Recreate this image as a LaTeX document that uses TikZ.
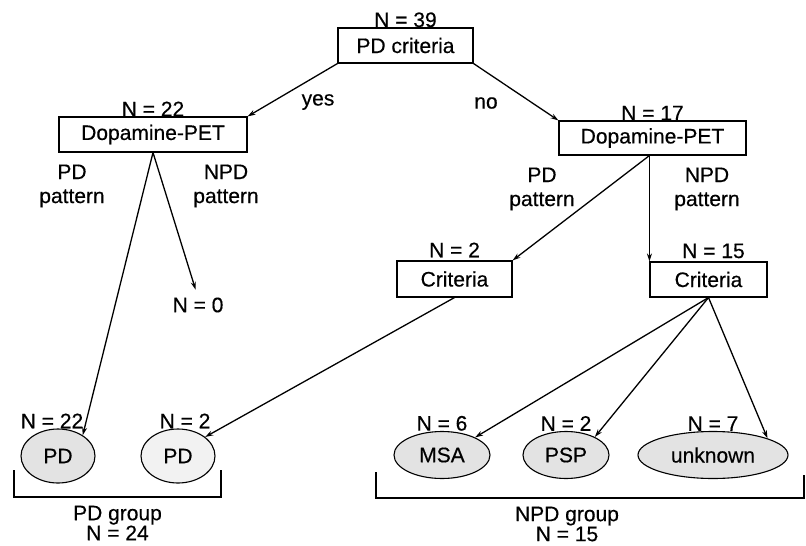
\documentclass[tikz,border=0pt]{standalone}
\usepackage{fontspec}
\setmainfont[FakeBold=0.4]{Liberation Sans}
\usetikzlibrary{positioning,shapes.geometric,arrows.meta}

\begin{document}
\begin{tikzpicture}[x = 1pt, y = -1pt,
                font = \fontsize{21}{24}\selectfont,
                box/.style   = {draw, line width = 1.1pt, inner sep = 0pt},
                oval/.style  = {ellipse, draw, line width = 1.1pt, fill = gray!22, inner sep = 0pt},
                count/.style = {inner sep = 0pt},
                arr/.style   = {-{Stealth[length = 8pt, width = 5pt]}, line width = 1.3pt}]
                \useasboundingbox (0,0) rectangle (806,546);
                % boxes
                \node [box, minimum width = 135pt, minimum height = 35pt] (crit)  at (405.5,45.5) {PD criteria};
                \node [box, minimum width = 188pt, minimum height = 35pt] (dpl)   at (153,134.5)  {Dopamine-PET};
                \node [box, minimum width = 187pt, minimum height = 34pt] (dpr)   at (652.5,138)  {Dopamine-PET};
                \node [box, minimum width = 115pt, minimum height = 36pt] (critL) at (454.5,279)  {Criteria};
                \node [box, minimum width = 117pt, minimum height = 35pt] (critR) at (708.5,279.5) {Criteria};
                % outcomes
                \node [oval, minimum width = 74pt, minimum height = 54pt] (pdA) at (58,456)  {PD};
                \node [oval, minimum width = 74pt, minimum height = 54pt, fill = gray!10] (pdB) at (178,456) {PD};
                \node [oval, minimum width = 96pt, minimum height = 47pt] (msa) at (442,455) {MSA};
                \node [oval, minimum width = 86pt, minimum height = 47pt] (psp) at (566,455) {PSP};
                \node [oval, minimum width = 150pt, minimum height = 47pt] (unk) at (713,455) {unknown};
                % counts
                \node [count, above = 0pt of crit]  {N = 39};
                \node [count, above = 0pt of dpl]   {N = 22};
                \node [count, above = 0pt of dpr]   {N = 17};
                \node [count, above = 3pt of critL] {N = 2};
                \node [count, above = 3pt of critR, xshift = 5pt] {N = 15};
                \node [count, above = 0pt of pdA, xshift = -6pt] {N = 22};
                \node [count, above = 0pt of pdB, xshift = 7pt]  {N = 2};
                \node [count, above = 0pt of msa]   {N = 6};
                \node [count, above = 0pt of psp]   {N = 2};
                \node [count, above = 0pt of unk]   {N = 7};
                \node [count] (zero) at (198,305) {N = 0};
                % branch labels
                \node at (318,102) {yes};
                \node at (486,103) {no};
                \node [align = center] at (72,186)  {PD\\pattern};
                \node [align = center] at (226,186) {NPD\\pattern};
                \node [align = center] at (542,189) {PD\\pattern};
                \node [align = center] at (707,189) {NPD\\pattern};
                % connectors
                \draw [arr] (crit.south west) -- (dpl.north east);
                \draw [arr] (crit.south east) -- (dpr.north west);
                \draw [arr] (dpl.south) -- (pdA.40);
                \draw [arr, shorten > = 8pt] (dpl.south) -- (zero.north);
                \draw [arr] (critR.north west |- dpr.south) -- (critL.north east);
                \draw [arr] (critR.north west |- dpr.south) -- (critR.north west);
                \draw [arr] (critL.south) -- (pdB.35);
                \draw [arr] (critR.south) -- (msa.28);
                \draw [arr] (critR.south) -- (psp.32);
                \draw [arr] (critR.south) -- (unk.17);
                % groups
                \draw [line width = 1.5pt] (14,470) |- (221,497) -- (221,470);
                \draw [line width = 1.5pt] (376,472) |- (804,498) -- (804,475);
                \node [align = center] at (117.5,523) {PD group\\[-4pt]N = 24};
                \node [align = center] at (567,524)   {NPD group\\[-4pt]N = 15};
            \end{tikzpicture}
\end{document}
